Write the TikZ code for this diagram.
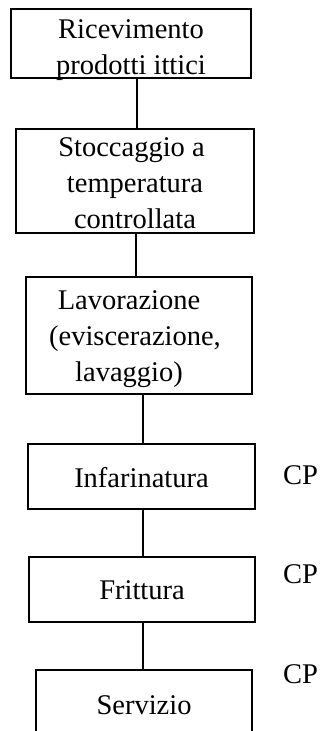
\documentclass[tikz,border=0pt]{standalone}
\usepackage{fontspec}
\setmainfont{Liberation Serif}
\begin{document}
\begin{tikzpicture}[x=1pt,y=-1pt,
  stepbox/.style={draw=black, line width=1.3pt, rectangle, inner sep=0pt},
  boxtext/.style={inner sep=0pt, anchor=base, font=\fontsize{28.5}{36}\selectfont},
  cplabel/.style={inner sep=0pt, anchor=base west, font=\fontsize{28.5}{36}\selectfont},
  link/.style={draw=black, line width=1.3pt}]
\useasboundingbox (0,0) rectangle (323,731);
\clip (0,0) rectangle (323,731);
% boxes
\node[stepbox, minimum width=240pt, minimum height=69pt] (b1) at (131,43.5) {};
\node[stepbox, minimum width=238pt, minimum height=104pt] (b2) at (135,181) {};
\node[stepbox, minimum width=226pt, minimum height=117pt] (b3) at (139,335.5) {};
\node[stepbox, minimum width=227pt, minimum height=65pt] (b4) at (141.5,476.5) {};
\node[stepbox, minimum width=226pt, minimum height=65pt] (b5) at (142,589.5) {};
\node[stepbox, minimum width=216pt, minimum height=65pt] (b6) at (144,702.5) {};
% texts
\node[boxtext] (t1) at (131,38) {\begin{tabular}[t]{@{}c@{}}Ricevimento\\prodotti ittici\end{tabular}};
\node[boxtext] (t2) at (135,156) {\begin{tabular}[t]{@{}c@{}}Stoccaggio a\hspace*{7pt}\\temperatura\\controllata\end{tabular}};
\node[boxtext] (t3) at (139,309) {\begin{tabular}[t]{@{}c@{}}Lavorazione\hspace*{20pt}\\(eviscerazione,\hspace*{8pt}\\lavaggio)\hspace*{20pt}\end{tabular}};
\node[boxtext] (t4) at (141.5,487) {Infarinatura};
\node[boxtext] (t5) at (142,599) {Frittura};
\node[boxtext] (t6) at (144,714) {Servizio};
% CP labels
\node[cplabel] (cp1) at (283,484) {CP};
\node[cplabel] (cp2) at (283,583) {CP};
\node[cplabel] (cp3) at (283,683) {CP};
% connectors
\draw[link] ([xshift=6pt]b1.south) -- ([xshift=6pt]b1.south |- b2.north);
\draw[link] ([xshift=1pt]b2.south) -- ([xshift=1pt]b2.south |- b3.north);
\draw[link] ([xshift=4pt]b3.south) -- ([xshift=4pt]b3.south |- b4.north);
\draw[link] ([xshift=1.5pt]b4.south) -- ([xshift=1.5pt]b4.south |- b5.north);
\draw[link] ([xshift=1pt]b5.south) -- ([xshift=1pt]b5.south |- b6.north);
\end{tikzpicture}
\end{document}
